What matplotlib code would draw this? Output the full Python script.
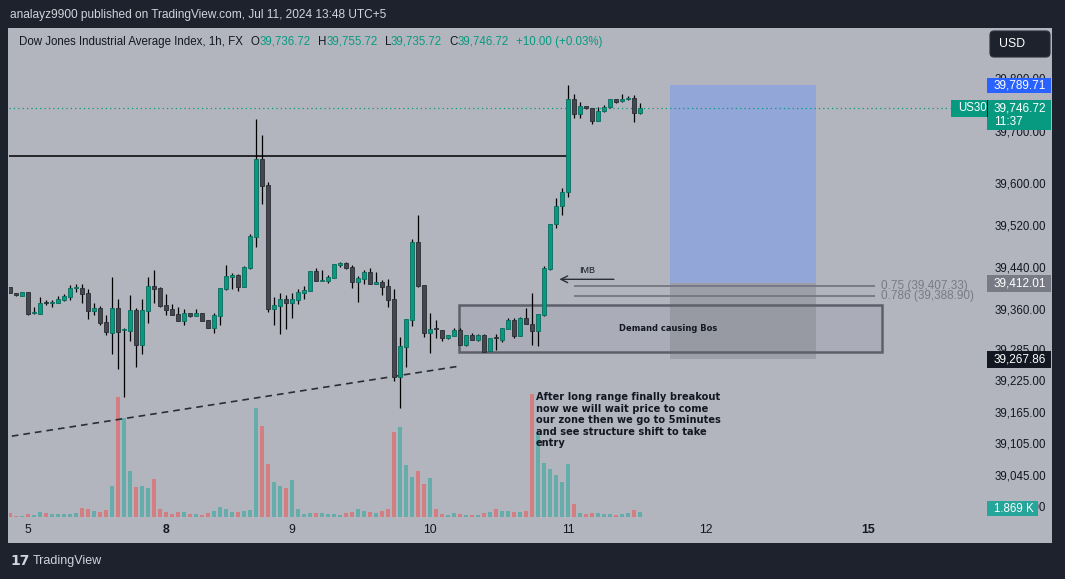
import matplotlib.pyplot as plt
from matplotlib.patches import Rectangle, FancyBboxPatch
from matplotlib.transforms import IdentityTransform

plt.rcParams["font.family"] = ["Liberation Sans", "DejaVu Sans"]

W, H = 1065, 579
DARK = "#1e222d"
PANEL = "#b2b5be"
UP = "#089981"
DOWN = "#45474f"
INK = "#131722"
GREY = "#787b86"

# hourly candles, Jul 4 late -> Jul 11 13:00 (UTC+5)
opens = [
    39405.4, 39394.0, 39388.8, 39395.8, 39355.0, 39354.5, 39375.0, 39375.4, 39375.5, 39381.2,
    39386.9, 39402.5, 39403.4, 39393.9, 39360.2, 39365.3, 39338.0, 39318.3, 39365.3, 39322.8,
    39322.1, 39361.5, 39295.4, 39360.2, 39407.3, 39403.4, 39371.0, 39363.4, 39353.9, 39341.2,
    39355.8, 39350.0, 39355.8, 39342.4, 39327.8, 39350.7, 39401.5, 39425.0, 39428.2, 39406.0,
    39442.2, 39501.3, 39649.4, 39599.8, 39364.0, 39369.8, 39382.5, 39375.5, 39381.2, 39393.9,
    39398.4, 39435.9, 39417.5, 39416.8, 39422.5, 39448.0, 39451.0, 39443.5, 39415.5, 39420.6,
    39434.0, 39411.7, 39414.9, 39407.3, 39382.5, 39234.4, 39291.6, 39343.0, 39491.1, 39409.2,
    39318.3, 39325.9, 39323.4, 39308.7, 39312.6, 39324.0, 39295.4, 39314.5, 39304.9, 39314.5,
    39283.3, 39309.3, 39305.0, 39325.9, 39343.0, 39312.6, 39346.9, 39335.5, 39322.1, 39352.6,
    39440.3, 39526.1, 39560.4, 39587.1, 39763.1, 39734.5, 39750.4, 39746.6, 39722.5, 39740.9,
    39747.9, 39763.8, 39760.0, 39763.8, 39765.7, 39736.72,
]
highs = [
    39406.0, 39394.0, 39396.0, 39396.0, 39366.6, 39386.3, 39380.6, 39380.6, 39388.0, 39392.6,
    39409.2, 39411.0, 39411.0, 39400.9, 39374.8, 39369.1, 39352.6, 39424.4, 39382.5, 39327.2,
    39390.0, 39365.3, 39382.5, 39424.4, 39437.8, 39405.4, 39392.0, 39373.0, 39366.6, 39363.4,
    39356.0, 39363.4, 39356.0, 39342.4, 39355.8, 39404.0, 39447.3, 39432.0, 39430.0, 39445.4,
    39506.4, 39725.6, 39695.1, 39604.9, 39386.3, 39393.9, 39390.0, 39393.9, 39401.5, 39407.3,
    39436.0, 39441.6, 39437.8, 39428.2, 39450.0, 39453.0, 39453.0, 39447.3, 39426.3, 39437.8,
    39441.6, 39434.0, 39418.7, 39420.6, 39401.5, 39310.0, 39344.3, 39496.9, 39542.6, 39409.2,
    39356.4, 39343.0, 39323.4, 39314.5, 39327.8, 39327.8, 39314.5, 39318.3, 39316.4, 39316.4,
    39308.7, 39316.4, 39327.8, 39346.9, 39346.9, 39348.8, 39366.0, 39394.5, 39354.5, 39446.0,
    39526.1, 39575.7, 39594.7, 39789.71, 39773.3, 39758.0, 39750.4, 39746.6, 39748.5, 39752.3,
    39763.8, 39763.8, 39773.3, 39769.5, 39771.4, 39755.72,
]
lows = [
    39393.0, 39388.0, 39388.0, 39352.0, 39353.3, 39353.3, 39371.0, 39367.9, 39374.2, 39379.3,
    39380.6, 39395.8, 39375.5, 39344.3, 39352.6, 39332.9, 39313.8, 39277.6, 39249.7, 39196.3,
    39303.0, 39253.5, 39277.6, 39337.4, 39375.5, 39367.9, 39352.6, 39352.0, 39341.0, 39332.9,
    39349.0, 39350.0, 39341.0, 39327.0, 39318.3, 39332.9, 39399.6, 39401.5, 39397.7, 39406.0,
    39440.3, 39482.2, 39564.2, 39357.7, 39332.9, 39315.7, 39325.3, 39346.9, 39373.6, 39382.5,
    39398.0, 39416.8, 39416.8, 39413.0, 39422.0, 39444.0, 39439.7, 39403.4, 39377.4, 39411.0,
    39411.0, 39411.7, 39390.0, 39367.2, 39226.8, 39175.3, 39253.5, 39331.6, 39406.0, 39310.7,
    39280.2, 39308.7, 39303.0, 39306.8, 39312.6, 39295.4, 39293.5, 39304.9, 39303.0, 39282.0,
    39283.0, 39285.2, 39301.1, 39325.9, 39308.7, 39312.6, 39335.5, 39295.4, 39293.5, 39350.7,
    39438.4, 39518.5, 39543.3, 39577.6, 39726.9, 39726.9, 39745.3, 39716.8, 39722.5, 39739.0,
    39746.6, 39756.1, 39758.0, 39761.9, 39720.6, 39735.72,
]
closes = [
    39393.3, 39389.5, 39395.8, 39354.5, 39356.0, 39374.2, 39374.5, 39376.0, 39382.5, 39388.2,
    39402.8, 39403.0, 39392.6, 39360.2, 39365.3, 39337.4, 39319.0, 39365.3, 39320.2, 39323.4,
    39361.5, 39295.4, 39361.5, 39407.3, 39401.5, 39369.8, 39362.2, 39352.0, 39341.2, 39355.8,
    39350.0, 39355.8, 39341.2, 39327.8, 39352.0, 39403.4, 39426.3, 39428.0, 39406.0, 39443.5,
    39502.6, 39649.4, 39598.5, 39364.0, 39371.0, 39382.5, 39375.5, 39382.5, 39395.8, 39399.6,
    39435.9, 39416.8, 39418.7, 39424.4, 39449.2, 39451.0, 39441.6, 39415.5, 39422.5, 39434.0,
    39411.0, 39414.9, 39405.4, 39380.6, 39234.4, 39292.9, 39344.3, 39491.1, 39407.3, 39318.3,
    39325.9, 39324.6, 39308.7, 39314.5, 39324.0, 39295.4, 39314.5, 39304.9, 39314.5, 39282.0,
    39308.7, 39308.7, 39327.8, 39343.0, 39312.6, 39346.9, 39335.5, 39322.1, 39354.5, 39442.2,
    39526.1, 39560.4, 39587.1, 39763.1, 39734.5, 39750.4, 39746.6, 39722.5, 39740.9, 39748.5,
    39763.8, 39758.0, 39763.8, 39765.7, 39736.4, 39746.72,
]
# volume in thousands
volumes = [
    1.47, 0.40, 0.40, 1.07, 0.80, 1.87, 1.47, 1.07, 1.07, 1.07,
    1.07, 1.47, 3.47, 3.07, 2.27, 1.87, 2.67, 12.28, 47.93, 39.52,
    18.29, 11.88, 12.28, 11.48, 15.09, 3.07, 1.87, 1.07, 1.87, 1.87,
    1.07, 1.07, 0.67, 1.47, 2.27, 3.87, 3.07, 1.87, 1.87, 2.27,
    2.67, 43.52, 36.31, 21.09, 13.88, 12.28, 11.48, 14.69, 3.07, 1.07,
    1.47, 1.47, 1.47, 1.07, 1.07, 0.67, 1.47, 1.87, 3.07, 2.27,
    1.87, 1.47, 2.27, 3.07, 33.91, 35.91, 20.69, 15.89, 18.29, 13.08,
    15.49, 3.07, 1.07, 0.67, 1.47, 1.07, 0.67, 0.67, 0.67, 1.47,
    1.87, 3.07, 2.27, 2.27, 1.87, 1.87, 2.27, 48.86, 33.51, 21.49,
    19.09, 16.69, 13.88, 21.09, 5.07, 1.47, 1.07, 1.47, 1.47, 1.07,
    1.07, 0.67, 1.07, 1.47, 2.67, 1.869,
]

day_ticks = [3, 26, 47, 70, 93, 116, 143]
day_labels = ["5", "8", "9", "10", "11", "12", "15"]
bold_days = ["8", "15"]
price_ticks = [39800, 39700, 39600, 39520, 39440, 39360, 39285, 39225,
               39165, 39105, 39045, 38985]

last_price = 39746.72
resistance = 39655.0
trend_x = [0.3, 75.2]
trend_y = [39121.0, 39255.0]
demand_x = [74.8, 145.3]
demand_y = [39280.8, 39371.6]
fib_x = [94.0, 144.2]
fib_levels = [39407.33, 39388.90]
fib_labels = ["0.75 (39,407.33)", "0.786 (39,388.90)"]
pos_x = [110.0, 134.3]
pos_target, pos_entry, pos_stop = 39789.71, 39412.01, 39267.86
imb_level = 39420.0
note = ("After long range finally breakout\n"
        "now we will wait price to come\n"
        "our zone then we go to 5minutes\n"
        "and see structure shift to take\n"
        "entry")


def fx(px):
    return px / W


def fy(py):
    return 1 - py / H


fig = plt.figure(figsize=(W / 100, H / 100), dpi=100, facecolor=DARK)
fig.add_artist(Rectangle((fx(8), fy(543)), fx(1052) - fx(8), fy(28) - fy(543),
                         transform=fig.transFigure, facecolor=PANEL,
                         edgecolor="none", zorder=-5))

rect = [fx(9), fy(516.5), fx(984) - fx(9), fy(28) - fy(516.5)]
vax = fig.add_axes(rect, zorder=1)
ax = fig.add_axes(rect, zorder=2)
for a in (vax, ax):
    a.set_xlim(-0.17, 162.33)
    a.axis("off")
    a.patch.set_visible(False)
ax.set_ylim(38967.8, 39899.1)
vax.set_ylim(0, 195.6)

bars = list(range(len(opens)))
up = [c >= o for o, c in zip(opens, closes)]

# volume
vcol = [(38 / 255, 166 / 255, 154 / 255, 0.55) if u else (239 / 255, 83 / 255, 80 / 255, 0.55)
        for u in up]
vax.bar(bars, volumes, width=0.78, color=vcol, linewidth=0)

# long position tool + demand zone
ax.add_patch(Rectangle((pos_x[0], pos_entry), pos_x[1] - pos_x[0], pos_target - pos_entry,
                       facecolor="#92a6d8", edgecolor="none", zorder=1))
ax.add_patch(Rectangle((pos_x[0], pos_stop), pos_x[1] - pos_x[0], pos_entry - pos_stop,
                       facecolor="#9c9fa8", edgecolor="none", zorder=1))
ax.add_patch(Rectangle((demand_x[0], demand_y[0]), demand_x[1] - demand_x[0],
                       demand_y[1] - demand_y[0], facecolor=(0.47, 0.48, 0.53, 0.12),
                       edgecolor="#5d606b", linewidth=1.8, zorder=2))
ax.text(109.75, sum(demand_y) / 2, "Demand causing Bos", ha="center",
        va="center", fontsize=6.0, fontweight="bold", color=INK,
        family=["DejaVu Sans"], zorder=6)

# lines
ax.hlines(resistance, -0.17, 93, color="black", lw=1.1, zorder=2)
ax.hlines(last_price, -0.17, 156.7, color=UP, lw=0.9, linestyles=(0, (1, 2.5)), zorder=2)
ax.plot(trend_x, trend_y, color="#2a2e39", lw=1.2, ls=(0, (4, 3)), zorder=2)
ax.hlines(fib_levels, fib_x[0], fib_x[1], color=GREY, lw=1.4, zorder=2)
for lvl, lab in zip(fib_levels, fib_labels):
    ax.text(fib_x[1] + 1.0, lvl, lab, ha="left", va="center", fontsize=8.5,
            color=GREY, zorder=6)
ax.annotate("", xy=(91.1, imb_level), xytext=(101.1, imb_level),
            arrowprops=dict(arrowstyle="->", color="#2a2e39", lw=1.0,
                            mutation_scale=12), zorder=6)
ax.text(94.8, imb_level + 9, "IMB", ha="left", va="bottom", fontsize=6.5,
        color=INK, zorder=6)

# candles
ax.vlines(bars, lows, highs, color="black", lw=0.9, zorder=3)
bottoms = [min(o, c) for o, c in zip(opens, closes)]
bodies = [max(abs(c - o), 2.0) for o, c in zip(opens, closes)]
ax.bar(bars, bodies, bottom=bottoms, width=0.68,
       color=[UP if u else DOWN for u in up],
       edgecolor=["#0b6b5c" if u else "#2a2c33" for u in up],
       linewidth=0.6, zorder=4)

ax.text(87.6, 39205, note, ha="left", va="top", fontsize=7.1, fontweight="bold",
        color=INK, family=["DejaVu Sans"], linespacing=1.2, zorder=6)


def py(price):
    return H - ax.transData.transform((0, price))[1]


# price scale
for p in price_ticks:
    fig.text(fx(1046), fy(py(p)), f"{p:,.2f}", ha="right", va="center",
             fontsize=8.3, color=INK, zorder=3)


def tag(y0, y1, x0, x1, color, text, tcolor="white", size=8.5):
    fig.add_artist(Rectangle((fx(x0), fy(y1)), fx(x1) - fx(x0), (y1 - y0) / H,
                             transform=fig.transFigure, facecolor=color,
                             edgecolor="none", zorder=10))
    fig.text(fx(x0 + 7), fy((y0 + y1) / 2), text, ha="left", va="center",
             fontsize=size, color=tcolor, zorder=11, linespacing=1.15)


yt = py(pos_target)
tag(yt - 7, yt + 8, 987, 1051, "#2962ff", f"{pos_target:,.2f}")
yl = py(last_price)
tag(yl - 8, yl + 22, 987, 1051, UP, f"{last_price:,.2f}\n11:37")
tag(yl - 8, yl + 9, 951, 987, UP, "US30", size=8.3)
fig.add_artist(Rectangle((fx(986.5), fy(yl + 9)), 1.2 / W, 17 / H,
                         transform=fig.transFigure, facecolor=INK, zorder=12))
ye = py(pos_entry)
tag(ye - 8, ye + 8.5, 987, 1051, GREY, f"{pos_entry:,.2f}")
ys = py(pos_stop)
tag(ys - 8, ys + 8.5, 987, 1051, INK, f"{pos_stop:,.2f}")
yv = H - vax.transData.transform((0, volumes[-1]))[1]
tag(yv - 11, yv + 4.5, 987, 1038, "#26a69a", f"{volumes[-1]:.3f} K", size=8.3)

# time scale
for t, lab in zip(day_ticks, day_labels):
    fig.text(ax.transData.transform((t, 0))[0] / W, fy(530), lab, ha="center",
             va="center", fontsize=8.8, color=INK,
             fontweight="bold" if lab in bold_days else "normal")

# header + legend
fig.text(fx(10), fy(15), "analayz9900 published on TradingView.com, Jul 11, 2024 13:48 UTC+5",
         ha="left", va="center", fontsize=8.6, color="#d1d4dc")
legend = [
    ("Dow Jones Industrial Average Index, 1h, FX", INK, 8),
    ("O", INK, 0), ("39,736.72", UP, 7),
    ("H", INK, 0), ("39,755.72", UP, 7),
    ("L", INK, 0), ("39,735.72", UP, 7),
    ("C", INK, 0), ("39,746.72", UP, 7),
    ("+10.00 (+0.03%)", UP, 0),
]
renderer = fig.canvas.get_renderer()
x = 19.0
for s, c, gap in legend:
    t = fig.text(fx(x), fy(42), s, ha="left", va="center", fontsize=8.3, color=c)
    x += t.get_window_extent(renderer).width + gap

usd = FancyBboxPatch((990, H - 57), 60, 26, boxstyle="round,pad=0,rounding_size=4",
                     transform=IdentityTransform(), facecolor=DARK,
                     edgecolor="#2a2e39", lw=0.8, zorder=10)
fig.add_artist(usd)
fig.text(fx(1012), fy(44), "USD", ha="center", va="center", fontsize=8.8,
         color="white", zorder=11)

fig.text(fx(10), fy(561), "17", ha="left", va="center", fontsize=10,
         fontweight="bold", color="#d1d4dc", family=["DejaVu Sans"])
fig.text(fx(33), fy(561), "TradingView", ha="left", va="center", fontsize=9,
         color="#d1d4dc")

fig.savefig("out.png", dpi=100, facecolor=DARK)
